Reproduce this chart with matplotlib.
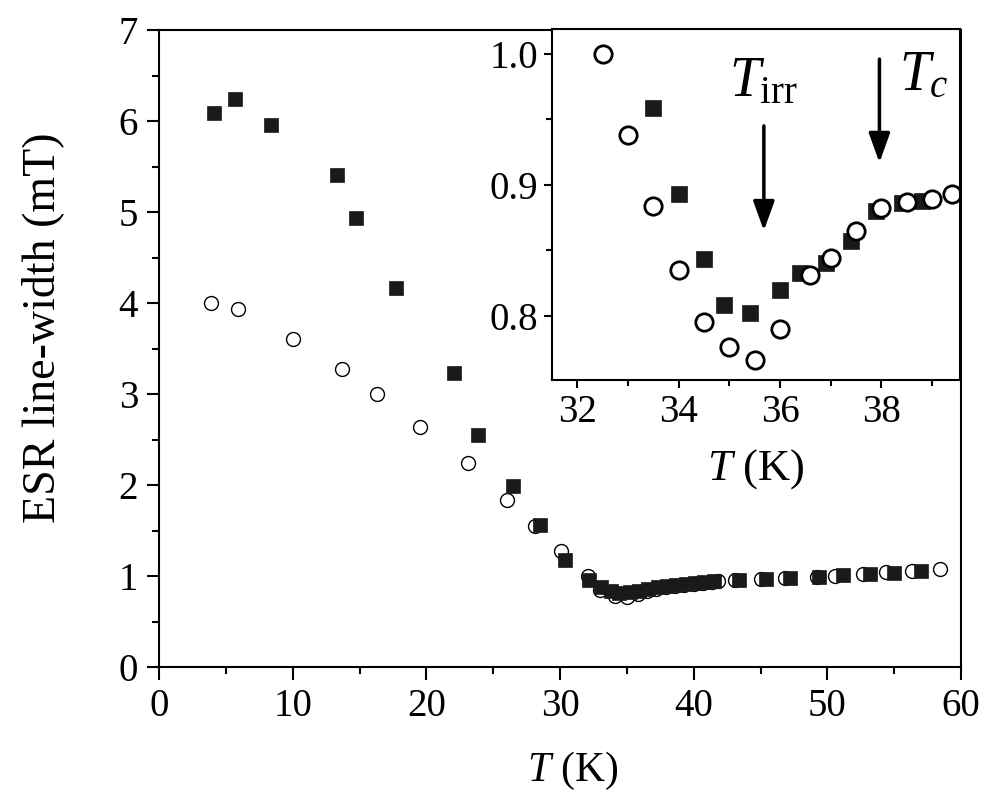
import matplotlib
matplotlib.use("Agg")
import matplotlib.pyplot as plt
from matplotlib.ticker import MultipleLocator, FormatStrFormatter

plt.rcParams['font.family'] = ['Liberation Serif', 'DejaVu Serif']
plt.rcParams['mathtext.fontset'] = 'custom'
plt.rcParams['mathtext.rm'] = 'Liberation Serif'
plt.rcParams['mathtext.it'] = 'Liberation Serif:italic'
plt.rcParams['mathtext.bf'] = 'Liberation Serif:bold'

# main panel, open circles
t_open = [3.9, 5.9, 10.0, 13.7, 16.3, 19.5, 23.1, 26.0, 28.1, 30.1,
          32.1, 33.0, 34.1, 35.0, 35.8, 36.5, 37.2, 37.9, 38.6, 39.3,
          40.0, 40.7, 41.4, 41.8,
          43.1, 45.0, 46.8, 49.2, 50.6, 52.7, 54.4, 56.3, 58.4]
w_open = [4.00, 3.94, 3.60, 3.27, 3.00, 2.64, 2.24, 1.84, 1.55, 1.27,
          1.00, 0.85, 0.78, 0.77, 0.80, 0.84, 0.86, 0.88, 0.89, 0.90,
          0.91, 0.92, 0.93, 0.94,
          0.96, 0.97, 0.98, 0.99, 1.00, 1.02, 1.04, 1.05, 1.08]

# main panel, filled squares
t_fill = [4.1, 5.7, 8.4, 13.3, 14.7, 17.7, 22.1, 23.9, 26.5, 28.5, 30.4,
          32.2, 33.1, 33.8, 34.4, 35.2, 35.9, 36.6, 37.3, 38.0, 38.7,
          39.4, 40.1, 40.8, 41.5,
          43.4, 45.4, 47.2, 49.4, 51.2, 53.2, 55.0, 57.0]
w_fill = [6.09, 6.24, 5.96, 5.41, 4.93, 4.16, 3.23, 2.55, 1.99, 1.56, 1.18,
          0.96, 0.88, 0.84, 0.81, 0.82, 0.84, 0.86, 0.88, 0.89, 0.90,
          0.91, 0.92, 0.93, 0.94,
          0.96, 0.97, 0.98, 0.99, 1.01, 1.02, 1.03, 1.05]

# inset (32-39 K)
ti_open = [32.5, 33.0, 33.5, 34.0, 34.5, 35.0, 35.5, 36.0, 36.6, 37.0,
           37.5, 38.0, 38.5, 39.0, 39.4]
wi_open = [1.000, 0.938, 0.884, 0.835, 0.795, 0.776, 0.766, 0.790, 0.831,
           0.844, 0.865, 0.882, 0.887, 0.889, 0.893]
ti_fill = [33.5, 34.0, 34.5, 34.9, 35.4, 36.0, 36.4, 36.9, 37.4, 37.9,
           38.4, 38.8]
wi_fill = [0.959, 0.893, 0.843, 0.808, 0.802, 0.820, 0.833, 0.840, 0.857,
           0.880, 0.886, 0.888]

T_irr = 35.68
T_c = 37.96

fig = plt.figure(figsize=(10.02, 8.10), dpi=100)
ax = fig.add_axes([0.1587, 0.1765, 0.8004, 0.7864])

ax.plot(t_open, w_open, 'o', ms=10, mfc='white', mec='black', mew=1.0)
ax.plot(t_fill, w_fill, 's', ms=10.5, mfc='#1a1a1a', mec='#1a1a1a', mew=0.5)

ax.set_xlim(0, 60)
ax.set_ylim(0, 7)
ax.xaxis.set_major_locator(MultipleLocator(10))
ax.xaxis.set_minor_locator(MultipleLocator(5))
ax.yaxis.set_major_locator(MultipleLocator(1))
ax.yaxis.set_minor_locator(MultipleLocator(0.5))
ax.tick_params(which='both', direction='out', width=1.5, labelsize=28, top=False, right=False)
ax.tick_params(which='major', length=9, pad=6)
ax.tick_params(which='minor', length=5)
for s in ax.spines.values():
    s.set_linewidth(1.5)
ax.set_xlabel('$T$ (K)', fontsize=30)
ax.set_ylabel('ESR line-width (mT)', fontsize=33)
ax.xaxis.set_label_coords(0.516, -0.130)
ax.yaxis.set_label_coords(-0.118, 0.532)

# inset
ins = fig.add_axes([0.5509, 0.5309, 0.4072, 0.4333])
ins.plot(ti_fill, wi_fill, 's', ms=12, mfc='#1a1a1a', mec='#1a1a1a', mew=0.5)
ins.plot(ti_open, wi_open, 'o', ms=12.5, mfc='white', mec='black', mew=2.0)
ins.set_xlim(31.5, 39.55)
ins.set_ylim(0.751, 1.019)
ins.xaxis.set_major_locator(MultipleLocator(2))
ins.xaxis.set_minor_locator(MultipleLocator(1))
ins.yaxis.set_major_locator(MultipleLocator(0.1))
ins.yaxis.set_minor_locator(MultipleLocator(0.05))
ins.yaxis.set_major_formatter(FormatStrFormatter('%.1f'))
ins.tick_params(which='both', direction='out', width=1.5, labelsize=28, top=False, right=False)
ins.tick_params(which='major', length=6, pad=4)
ins.tick_params(which='minor', length=4)
for s in ins.spines.values():
    s.set_linewidth(1.5)
ins.set_xlabel('$T$ (K)', fontsize=32, labelpad=12)

arrow = dict(arrowstyle='-|>,head_width=0.65,head_length=1.8', lw=2.5, color='black', shrinkA=0, shrinkB=0)
ins.annotate('', xy=(T_irr, 0.865), xytext=(T_irr, 0.945), arrowprops=arrow)
ins.annotate('', xy=(T_c, 0.917), xytext=(T_c, 0.996), arrowprops=arrow)
ins.text(35.0, 0.968, r'$T_{\rm irr}$', fontsize=40, ha='left', va='baseline')
ins.text(38.35, 0.972, r'$T_c$', fontsize=40, ha='left', va='baseline')

fig.savefig('out.png', dpi=100)
